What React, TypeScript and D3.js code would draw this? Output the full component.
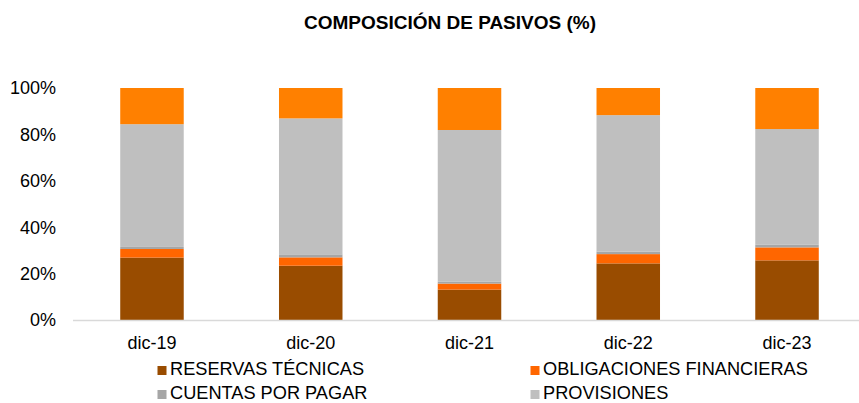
import React, { useEffect, useRef } from 'react';
import * as d3 from 'd3';

const periods = ['dic-19', 'dic-20', 'dic-21', 'dic-22', 'dic-23'];
const reservasTecnicas = [26.9, 23.4, 13.1, 24.4, 25.7];
const obligacionesFinancieras = [3.7, 3.6, 2.6, 4.0, 5.6];
const cuentasPorPagar = [0.9, 1.3, 0.9, 1.0, 1.1];
const provisiones = [52.9, 58.6, 65.3, 58.9, 49.9];
const otrosPasivos = [15.6, 13.1, 18.1, 11.7, 17.7];
const yTicks = [0, 0.2, 0.4, 0.6, 0.8, 1];

const seriesDefs = [
  { key: 'reservas', name: 'RESERVAS TÉCNICAS', values: reservasTecnicas, color: '#994c00', legend: true },
  { key: 'obligaciones', name: 'OBLIGACIONES FINANCIERAS', values: obligacionesFinancieras, color: '#ff6600', legend: true },
  { key: 'cuentas', name: 'CUENTAS POR PAGAR', values: cuentasPorPagar, color: '#a6a6a6', legend: true },
  { key: 'provisiones', name: 'PROVISIONES', values: provisiones, color: '#bfbfbf', legend: true },
  { key: 'otros', name: 'OTROS', values: otrosPasivos, color: '#ff8000', legend: false },
];

const W = 859;
const H = 403;
const FONT = "'Liberation Sans', Arial, sans-serif";

export default function App() {
  const svgRef = useRef<SVGSVGElement>(null);

  useEffect(() => {
    const svg = d3.select(svgRef.current);
    svg.selectAll('*').remove();

    const x = d3.scaleBand<string>()
      .domain(periods)
      .range([72.6, 866.4])
      .paddingInner(0.6)
      .paddingOuter(0.3);

    const y = d3.scaleLinear().domain([0, 1]).range([320, 88]);

    // stack the shares (normalised per period)
    const rows = periods.map((p, i) => {
      const row: any = { period: p };
      seriesDefs.forEach(s => { row[s.key] = s.values[i]; });
      return row;
    });
    const stacked = d3.stack<any>()
      .keys(seriesDefs.map(s => s.key))
      .offset(d3.stackOffsetExpand)(rows);

    // title
    svg.append('text')
      .attr('x', 450)
      .attr('y', 29)
      .attr('text-anchor', 'middle')
      .style('font-family', FONT)
      .style('font-size', '19px')
      .style('font-weight', 'bold')
      .style('fill', '#000')
      .text('COMPOSICIÓN DE PASIVOS (%)');

    // bars
    svg.append('g')
      .selectAll('g')
      .data(stacked)
      .enter().append('g')
      .attr('fill', (d, i) => seriesDefs[i].color)
      .selectAll('rect')
      .data(d => d)
      .enter().append('rect')
      .attr('x', d => x(d.data.period) as number)
      .attr('width', x.bandwidth())
      .attr('y', d => y(d[1]))
      .attr('height', d => y(d[0]) - y(d[1]));

    // x axis line
    svg.append('line')
      .attr('x1', 73)
      .attr('x2', W)
      .attr('y1', 320.5)
      .attr('y2', 320.5)
      .style('stroke', '#d9d9d9')
      .style('stroke-width', 1.5);

    // y tick labels
    svg.append('g')
      .selectAll('text')
      .data(yTicks)
      .enter().append('text')
      .attr('x', 56)
      .attr('y', d => y(d))
      .attr('dy', '0.36em')
      .attr('text-anchor', 'end')
      .style('font-family', FONT)
      .style('font-size', '18px')
      .style('fill', '#000')
      .text(d => d3.format('.0%')(d));

    // category labels
    svg.append('g')
      .selectAll('text')
      .data(periods)
      .enter().append('text')
      .attr('x', d => (x(d) as number) + x.bandwidth() / 2)
      .attr('y', 349)
      .attr('text-anchor', 'middle')
      .style('font-family', FONT)
      .style('font-size', '18px')
      .style('fill', '#000')
      .text(d => d);

    // legend (2 columns)
    const legendItems = seriesDefs.filter(s => s.legend);
    const legend = svg.append('g')
      .selectAll('g')
      .data(legendItems)
      .enter().append('g')
      .attr('transform', (d, i) => `translate(${i % 2 === 0 ? 157.5 : 530.5},${i < 2 ? 375 : 399})`);

    legend.append('rect')
      .attr('x', 0)
      .attr('y', -9)
      .attr('width', 9)
      .attr('height', 9)
      .attr('fill', d => d.color);

    legend.append('text')
      .attr('x', 12.5)
      .attr('y', 0)
      .style('font-family', FONT)
      .style('font-size', '18.2px')
      .style('fill', '#000')
      .text(d => d.name);
  }, []);

  return (
    <div style={{ position: 'absolute', left: 0, top: 0, width: W, height: H, background: '#fff' }}>
      <svg ref={svgRef} width={W} height={H}></svg>
    </div>
  );
}
